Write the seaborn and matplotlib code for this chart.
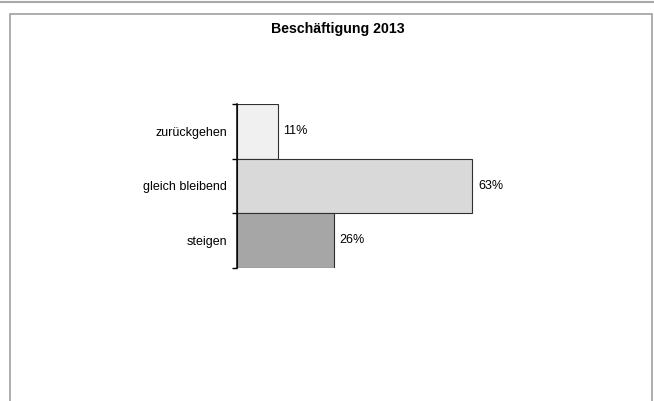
import matplotlib
matplotlib.use("Agg")
import matplotlib.pyplot as plt
from matplotlib.patches import Rectangle
from matplotlib.lines import Line2D
import seaborn as sns
import pandas as pd

categories = ["zurückgehen", "gleich bleibend", "steigen"]
values = [11, 63, 26]
bar_colors = ["#f0f0f0", "#d9d9d9", "#a6a6a6"]
title = "Beschäftigung 2013"

sns.set_theme(style="white")
plt.rcParams["font.family"] = ["Liberation Sans", "DejaVu Sans"]

W, H = 654, 401
fig = plt.figure(figsize=(W / 100, H / 100), dpi=100)

# page rule and chart frame
fig.add_artist(Line2D([0, 1], [1 - 1.5 / H, 1 - 1.5 / H], color="#a8a8a8", lw=1.5,
                      transform=fig.transFigure))
fig.add_artist(Rectangle((10 / W, -0.05), (652 - 10) / W, 1.05 - 13.5 / H,
                         transform=fig.transFigure, fill=False,
                         edgecolor="#a0a0a0", lw=1.2))

fig.text(338 / W, 1 - 29 / H, title, ha="center", va="center",
         fontsize=10.2, fontweight="bold", color="black")

left, right = 236.5 / W, 611 / W
top, bottom = 1 - 104 / H, 1 - 267.5 / H
ax = fig.add_axes([left, bottom, right - left, top - bottom])

df = pd.DataFrame({"Kategorie": categories, "Anteil": values})
sns.barplot(data=df, x="Anteil", y="Kategorie", hue="Kategorie",
            palette=bar_colors, orient="h", width=1.0, ax=ax,
            edgecolor="#303030", linewidth=0.8, legend=False)

ax.set_xlim(0, 100)
ax.set_ylim(len(categories) - 0.5, -0.5)
for i, v in enumerate(values):
    ax.text(v + 1.5, i, f"{v}%", va="center", ha="left", fontsize=9, color="black")

for s in ["top", "right", "bottom"]:
    ax.spines[s].set_visible(False)
ax.spines["left"].set_color("black")
ax.spines["left"].set_linewidth(1.1)
ax.set_xticks([])
ax.set_xlabel("")
ax.set_ylabel("")
ax.set_yticks(range(len(categories)))
ax.set_yticklabels(categories, fontsize=9, color="black")
ax.tick_params(axis="y", which="major", length=0, pad=7)
ax.set_yticks([i - 0.5 for i in range(len(categories) + 1)], minor=True)
ax.tick_params(axis="y", which="minor", length=3.5, width=1.0, color="black", left=True)
ax.patch.set_alpha(0)

fig.savefig("out.png", dpi=100, facecolor="white")
